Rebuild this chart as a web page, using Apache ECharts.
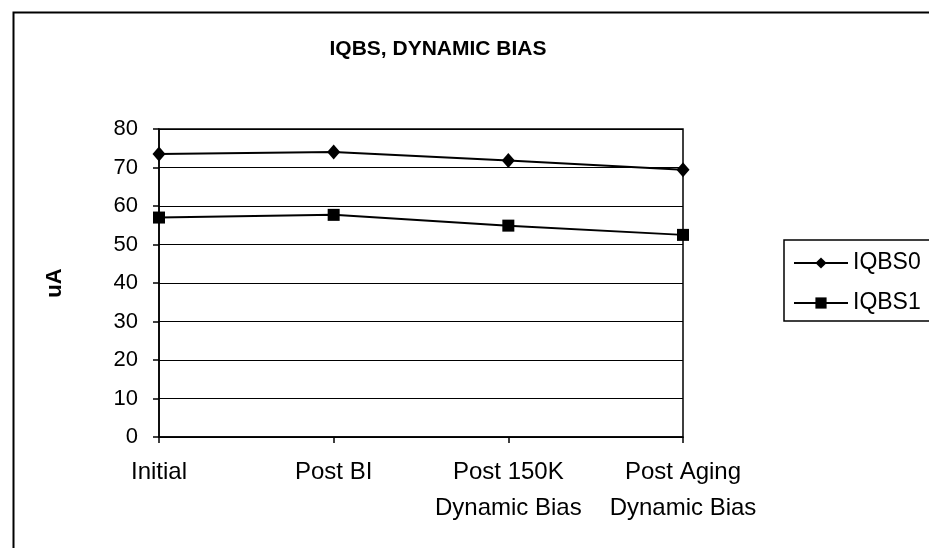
<!DOCTYPE html>
<html>
<head>
<meta charset="utf-8">
<script src="https://cdn.jsdelivr.net/npm/echarts@6/dist/echarts.min.js"></script>
<style>html,body{margin:0;padding:0;background:#fff}#c{width:929px;height:548px}</style>
</head>
<body>
<div id="c"></div>
<script>
var categories = ['Initial', 'Post BI', 'Post 150K\nDynamic Bias', 'Post Aging\nDynamic Bias'];
var iqbs0 = [73.5, 74.0, 71.8, 69.4];
var iqbs1 = [57.0, 57.7, 54.9, 52.5];
var yTicks = {min: 0, max: 80, interval: 10};

var font = 'Liberation Sans, Arial, sans-serif';
var chart = echarts.init(document.getElementById('c'), null, {renderer: 'canvas'});
chart.setOption({
  backgroundColor: '#fff',
  animation: false,
  graphic: [{
    type: 'rect', left: 11, top: 10,
    shape: {width: 940, height: 560},
    style: {fill: 'none', stroke: '#000', lineWidth: 2}
  }],
  title: {
    text: 'IQBS, DYNAMIC BIAS',
    left: 433, top: 34, textAlign: 'center',
    textStyle: {fontFamily: font, fontWeight: 'bold', fontSize: 21, color: '#000'}
  },
  legend: {
    orient: 'vertical', left: 784, top: 240,
    padding: [11, 40, 6, 9],
    itemWidth: 54, itemHeight: 14, itemGap: 16,
    borderColor: '#000', borderWidth: 1.5,
    textStyle: {fontFamily: font, fontSize: 23, lineHeight: 24, color: '#000'},
    data: ['IQBS0', 'IQBS1']
  },
  grid: {
    left: 159, right: 246, top: 129, bottom: 111,
    show: true, borderColor: '#000', borderWidth: 1.5, backgroundColor: 'transparent'
  },
  xAxis: {
    type: 'category', data: categories, boundaryGap: false,
    axisLine: {lineStyle: {color: '#000', width: 1.5}},
    axisTick: {show: true, length: 6, lineStyle: {color: '#000', width: 1.5}},
    axisLabel: {fontFamily: font, fontSize: 24, color: '#000', margin: 17, lineHeight: 36, interval: 0},
    splitLine: {show: false}
  },
  yAxis: {
    type: 'value', min: yTicks.min, max: yTicks.max, interval: yTicks.interval,
    name: 'uA', nameLocation: 'middle', nameGap: 93, nameRotate: 90,
    nameTextStyle: {fontFamily: font, fontWeight: 'bold', fontSize: 22, color: '#000'},
    axisLine: {show: true, lineStyle: {color: '#000', width: 1.5}},
    axisTick: {show: true, length: 6, lineStyle: {color: '#000', width: 1.5}},
    axisLabel: {fontFamily: font, fontSize: 22, color: '#000', margin: 21},
    splitLine: {show: true, lineStyle: {color: '#000', width: 1}}
  },
  series: [{
    name: 'IQBS0', type: 'line', data: iqbs0,
    symbol: 'diamond', symbolSize: [13, 15],
    lineStyle: {color: '#000', width: 2},
    itemStyle: {color: '#000'}
  }, {
    name: 'IQBS1', type: 'line', data: iqbs1,
    symbol: 'rect', symbolSize: 12,
    lineStyle: {color: '#000', width: 2},
    itemStyle: {color: '#000'}
  }]
});
</script>
</body>
</html>
